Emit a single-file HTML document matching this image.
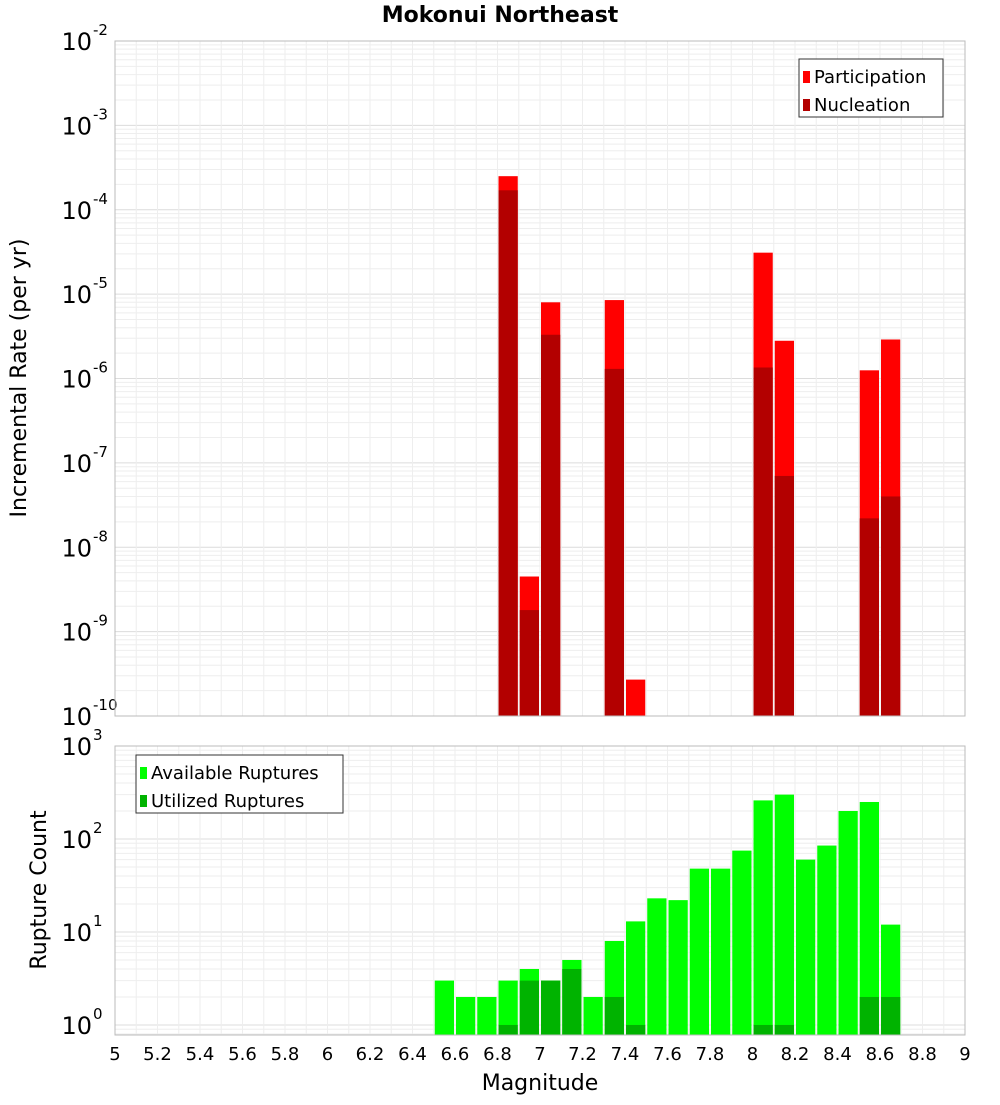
<!DOCTYPE html>
<html><head><meta charset="utf-8"><style>
body{margin:0;background:#fff;font-family:"Liberation Sans","DejaVu Sans",sans-serif}
svg text{font-family:"DejaVu Sans","Liberation Sans",sans-serif}
</style></head><body>
<svg id="c" width="1000" height="1100" xmlns="http://www.w3.org/2000/svg">
<rect width="1000" height="1100" fill="#fff"/>
<text x="500" y="22" text-anchor="middle" font-size="22" font-weight="bold">Mokonui Northeast</text>
<g id="top"></g><g id="bot"></g>
<text transform="translate(26,378) rotate(-90)" text-anchor="middle" font-size="22">Incremental Rate (per yr)</text>
<text transform="translate(46,890) rotate(-90)" text-anchor="middle" font-size="22">Rupture Count</text>
<text x="540" y="1090" text-anchor="middle" font-size="22">Magnitude</text>
</svg>
<script>
const magCenters=[6.85,6.95,7.05,7.35,7.45,8.05,8.15,8.55,8.65];
const participation=[2.5e-4,4.5e-9,8e-6,8.5e-6,2.7e-10,3.1e-5,2.8e-6,1.25e-6,2.9e-6];
const nucleation=[1.7e-4,1.8e-9,3.3e-6,1.3e-6,0,1.35e-6,7e-8,2.2e-8,4e-8];
const countCenters=[6.55,6.65,6.75,6.85,6.95,7.05,7.15,7.25,7.35,7.45,7.55,7.65,7.75,7.85,7.95,8.05,8.15,8.25,8.35,8.45,8.55,8.65];
const available=[3,2,2,3,4,3,5,2,8,13,23,22,48,48,75,260,300,60,85,200,250,12];
const utilized=[0,0,0,1,3,3,4,0,2,1,0,0,0,0,0,1,1,0,0,0,2,2];
const xTicks=[5,5.2,5.4,5.6,5.8,6,6.2,6.4,6.6,6.8,7,7.2,7.4,7.6,7.8,8,8.2,8.4,8.6,8.8,9];
const topExps=[-10,-9,-8,-7,-6,-5,-4,-3,-2];
const botExps=[0,1,2,3];
const NS="http://www.w3.org/2000/svg";
const X0=115,X1=965;
const xs=m=>X0+(m-5)/4*(X1-X0);
function mk(p,t,a){const e=document.createElementNS(NS,t);for(const k in a)e.setAttribute(k,a[k]);p.appendChild(e);return e;}
function panel(g,top,bot,lmin,lmax,exps){
  const ys=v=>bot-(Math.log10(v)-lmin)/(lmax-lmin)*(bot-top);
  for(let e=Math.floor(lmin);e<lmax;e++)for(let k=1;k<10;k++){const v=k*Math.pow(10,e);if(Math.log10(v)<lmin||Math.log10(v)>lmax)continue;const y=ys(v);
    const l=mk(g,'line',{x1:X0,x2:X1,y1:y,y2:y,stroke:k==1?'#dcdcdc':'#eeeeee','stroke-width':1});
    }
  for(let m=5;m<=9.001;m+=0.1){const x=xs(m);const l=mk(g,'line',{x1:x,x2:x,y1:top,y2:bot,stroke:'#eeeeee'});
    }
  exps.forEach(e=>{const y=ys(Math.pow(10,e));
    const t=mk(g,'text',{x:92,y:y+9,'text-anchor':'end','font-size':24});t.textContent='10';
    
    const s=mk(g,'text',{x:93,y:y-6,'font-size':15});s.textContent=String(e);
    });
  return ys;
}
const tg=document.getElementById('top'),bg=document.getElementById('bot');
const ysT=panel(tg,41,716,-10,-2,topExps);
const bw=xs(5.1)-xs(5)-2;
magCenters.forEach((m,i)=>{const x=xs(m)-bw/2;
  const r=mk(tg,'rect',{x:x,y:ysT(participation[i]),width:bw,height:716-ysT(participation[i]),fill:'#ff0000'});
  
  if(nucleation[i]>0){const n=mk(tg,'rect',{x:x,y:ysT(nucleation[i]),width:bw,height:716-ysT(nucleation[i]),fill:'#b30000'});
  }});
const tf=mk(tg,'rect',{x:X0,y:41,width:X1-X0,height:675,fill:'none',stroke:'#bbb'});

const BT=746,BB=1035,lminB=Math.log10(0.78);
const ysB=panel(bg,BT,BB,lminB,3,botExps);
countCenters.forEach((m,i)=>{const x=xs(m)-bw/2;
  const r=mk(bg,'rect',{x:x,y:ysB(available[i]),width:bw,height:BB-ysB(available[i]),fill:'#00ff00'});
  
  if(utilized[i]>0){const n=mk(bg,'rect',{x:x,y:ysB(utilized[i]),width:bw,height:BB-ysB(utilized[i]),fill:'#00b300'});
  }});
const bf=mk(bg,'rect',{x:X0,y:BT,width:X1-X0,height:BB-BT,fill:'none',stroke:'#bbb'});

xTicks.forEach(m=>{const t=mk(bg,'text',{x:xs(m),y:1060,'text-anchor':'middle','font-size':18});t.textContent=String(m);
  });
function legend(g,x,y,w,items){const b=mk(g,'rect',{x:x,y:y,width:w,height:58,fill:'#fff',stroke:'#333'});
  
  items.forEach((it,i)=>{const sw=mk(g,'rect',{x:x+4,y:y+12+i*28,width:7,height:12,fill:it[1]});
    
    const t=mk(g,'text',{x:x+15,y:y+24+i*28,'font-size':18});t.textContent=it[0];
    });}
legend(tg,799,59,144,[['Participation','#ff0000'],['Nucleation','#b30000']]);
legend(bg,136,755,207,[['Available Ruptures','#00ff00'],['Utilized Ruptures','#00b300']]);
</script>
</body></html>
